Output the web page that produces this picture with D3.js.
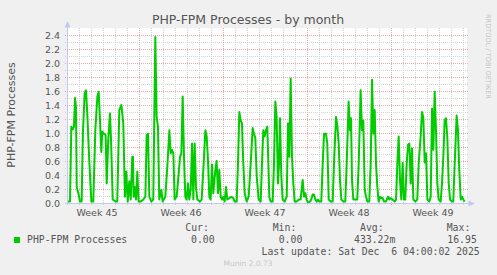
<!DOCTYPE html>
<html><head><meta charset="utf-8">
<script src="https://cdn.jsdelivr.net/npm/d3@7/dist/d3.min.js"></script>
<style>body{margin:0;background:#f0f0f0} svg{display:block} text{white-space:pre}</style>
</head><body>
<svg id="c" width="497" height="275"></svg>
<script>
const title = "PHP-FPM Processes - by month";
const yLabel = "PHP-FPM Processes";
const watermark = "RRDTOOL / TOBI OETIKER";
const footer = "Munin 2.0.73";
const weekLabels = ["Week 45","Week 46","Week 47","Week 48","Week 49"];
const weekStarts = [-1, 6, 13, 20, 27];
const yTickValues = [0,0.2,0.4,0.6,0.8,1.0,1.2,1.4,1.6,1.8,2.0,2.2,2.4];
const seriesName = "PHP-FPM Processes";
const legendHeaders = ["Cur:","Min:","Avg:","Max:"];
const legendValues = ["0.00","0.00","433.22m","16.95"];
const lastUpdate = "Last update: Sat Dec  6 04:00:02 2025";

const days = [0.03,0.25,0.36,0.47,0.58,0.67,0.75,0.81,0.97,1.08,1.22,1.33,1.47,1.58,1.69,1.86,2.03,2.19,2.36,2.53,2.64,2.75,2.86,2.94,3.08,3.22,3.31,3.44,3.58,3.67,3.81,4.06,4.19,4.36,4.53,4.69,4.83,4.94,5.06,5.19,5.31,5.44,5.5,5.55,5.64,5.75,5.86,5.97,6.14,6.36,6.53,6.64,6.75,6.86,7.03,7.19,7.36,7.47,7.58,7.69,7.86,7.97,8.19,8.36,8.53,8.64,8.75,8.86,8.97,9.14,9.31,9.42,9.53,9.64,9.75,9.86,9.97,10.08,10.19,10.31,10.42,10.53,10.64,10.75,10.86,11.08,11.22,11.36,11.53,11.64,11.75,11.86,11.97,12.08,12.19,12.36,12.47,12.58,12.69,12.81,12.92,13.03,13.14,13.25,13.36,13.53,13.69,13.86,13.97,14.14,14.25,14.36,14.47,14.58,14.69,14.81,14.97,15.14,15.31,15.47,15.58,15.69,15.81,15.97,16.14,16.25,16.36,16.47,16.58,16.69,16.86,16.97,17.14,17.25,17.36,17.47,17.58,17.67,17.75,17.86,17.97,18.14,18.31,18.42,18.53,18.58,18.64,18.75,18.86,18.97,19.14,19.31,19.47,19.64,19.75,19.86,19.97,20.08,20.25,20.36,20.47,20.58,20.69,20.81,20.92,21.03,21.19,21.31,21.42,21.58,21.69,21.81,21.97,22.14,22.25,22.42,22.53,22.64,22.75,22.86,23.03,23.19,23.31,23.47,23.58,23.67,23.75,23.86,24.03,24.19,24.31,24.47,24.58,24.69,24.81,24.92,25.03,25.19,25.31,25.42,25.53,25.64,25.75,25.86,25.97,26.08,26.19,26.31,26.42,26.58,26.75,26.86,26.97,27.14,27.31,27.42,27.53,27.64,27.75,27.86,27.97,28.08,28.19,28.31,28.42,28.53,28.64,28.75,28.86,29.03,29.19,29.31,29.47,29.58,29.69,29.81,29.92,30.03,30.19,30.31,30.42,30.53,30.64,30.75,30.86,30.97,31.14,31.25,31.36,31.47,31.58,31.69,31.81,31.92,32.08,32.19,32.31,32.47,32.58,32.69,32.81,32.92,33.03,33.14];
const values = [0.02,0.02,1.09,1.05,1.09,1.50,1.37,0.23,0.12,0.02,0.02,1.02,1.57,1.61,1.28,0.59,0.02,0.02,1.04,1.52,1.59,1.18,0.73,1.02,0.99,0.97,0.28,0.90,1.28,0.90,0.05,0.02,0.02,1.33,1.40,1.14,0.09,0.45,0.02,0.31,0.05,0.66,0.66,0.09,0.23,0.05,0.45,0.02,0.02,0.05,0.09,0.97,0.99,0.09,0.02,0.05,2.37,1.23,1.09,0.05,0.19,0.02,0.09,0.52,1.04,0.71,0.76,0.71,0.05,0.09,0.43,0.66,0.71,1.52,0.66,0.09,0.05,0.28,0.05,0.19,0.85,0.05,0.85,0.23,0.05,0.02,0.05,0.47,1.04,0.95,0.61,0.09,0.05,0.55,0.14,0.47,0.60,0.14,0.47,0.09,0.05,0.09,0.02,0.23,0.05,0.07,0.09,0.07,0.02,0.02,0.57,1.30,1.18,1.14,0.57,0.14,0.02,0.09,0.57,1.07,0.99,0.93,0.38,0.05,0.02,0.57,1.04,0.95,1.04,1.09,0.09,0.02,0.02,0.57,1.45,1.23,0.28,0.57,1.21,0.38,0.05,0.02,0.09,1.14,0.66,1.19,1.78,0.66,0.28,0.02,0.02,0.05,0.05,0.33,0.09,0.14,0.05,0.00,0.02,0.05,0.12,0.12,0.05,0.02,0.05,0.02,0.02,0.57,0.99,0.99,0.85,0.05,0.02,0.02,0.57,1.23,1.10,0.85,0.33,0.05,0.02,0.02,0.57,1.45,1.04,1.21,0.33,0.05,0.05,0.05,0.57,1.61,1.04,1.18,0.19,0.09,0.02,0.02,0.57,1.76,0.99,1.33,0.57,0.23,0.02,0.09,0.07,0.07,0.02,0.02,0.09,0.05,0.07,0.05,0.02,0.05,0.57,0.95,0.33,0.05,0.57,0.05,0.05,0.57,0.83,0.85,0.28,0.78,0.05,0.02,0.05,0.57,0.95,1.30,1.23,0.58,0.71,0.05,0.02,0.09,1.35,0.76,1.59,1.04,0.28,0.05,0.02,0.28,0.66,1.18,1.21,0.95,0.28,0.05,0.02,0.02,0.57,1.25,1.04,0.47,0.05,0.09,0.05,0.02];

(function () {
const svg = d3.select("#c");
const W = 497, H = 275;
const pL = 67, pR = 467, pT = 28, pB = 203;

svg.append("rect").attr("width", W).attr("height", H).attr("fill", "#f0f0f0");

const x = d3.scaleLinear().domain([0, 400/12]).range([pL, pR]);
const y = d3.scaleLinear().domain([0, 2.5]).range([pB, pT]);

svg.append("rect").attr("x", pL).attr("y", pT).attr("width", pR - pL).attr("height", pB - pT).attr("fill", "#ffffff");

const g = svg.append("g");
const minorY = d3.range(1, 25).map(i => i / 10).filter(v => Math.round(v * 10) % 2 === 1);
g.selectAll(".hm").data(minorY).enter().append("line")
  .attr("x1", pL - 2).attr("x2", pR + 2)
  .attr("y1", d => Math.round(y(d)) + 0.5).attr("y2", d => Math.round(y(d)) + 0.5)
  .attr("stroke", "#d2d2d2").attr("stroke-dasharray", "1,1");
const dayTicks = d3.range(1, 34).filter(d => !weekStarts.includes(d));
g.selectAll(".vm").data(dayTicks).enter().append("line")
  .attr("x1", d => Math.round(x(d)) + 0.5).attr("x2", d => Math.round(x(d)) + 0.5)
  .attr("y1", pT).attr("y2", pB + 2)
  .attr("stroke", "#d2d2d2").attr("stroke-dasharray", "1,1");
g.selectAll(".hM").data(yTickValues.filter(v => v > 0)).enter().append("line")
  .attr("x1", pL - 2).attr("x2", pR + 2)
  .attr("y1", d => Math.round(y(d)) + 0.5).attr("y2", d => Math.round(y(d)) + 0.5)
  .attr("stroke", "#eaaaaa").attr("stroke-dasharray", "1,1");
g.selectAll(".vM").data(weekStarts.filter(d => d > 0)).enter().append("line")
  .attr("x1", d => Math.round(x(d)) + 0.5).attr("x2", d => Math.round(x(d)) + 0.5)
  .attr("y1", pT).attr("y2", pB + 2)
  .attr("stroke", "#eaaaaa").attr("stroke-dasharray", "1,1");

svg.selectAll(".yt").data(yTickValues).enter().append("text")
  .attr("x", 60).attr("y", d => y(d) + 3.5)
  .attr("text-anchor", "end").attr("font-family", "DejaVu Sans").attr("font-size", 9.5)
  .attr("fill", "#555").text(d => d.toFixed(1));

svg.selectAll(".xt").data(weekLabels).enter().append("text")
  .attr("x", (d, i) => x(weekStarts[i] + 3.5)).attr("y", 215.5)
  .attr("text-anchor", "middle").attr("font-family", "DejaVu Sans").attr("font-size", 9.5)
  .attr("fill", "#555").text(d => d);

const line = d3.line().x(d => x(d[0])).y(d => y(d[1]));
svg.append("path").datum(days.map((d, i) => [d, values[i]]))
  .attr("d", line).attr("fill", "none").attr("stroke", "#00cc00")
  .attr("stroke-width", 2).attr("stroke-linejoin", "round");

const axisColor = "#c4c8f4";
svg.append("line").attr("x1", pL + 0.5).attr("x2", pL + 0.5).attr("y1", 27).attr("y2", pB + 2).attr("stroke", axisColor);
svg.append("line").attr("x1", pL - 2).attr("x2", pR + 2).attr("y1", pB + 0.5).attr("y2", pB + 0.5).attr("stroke", axisColor);
svg.append("path").attr("d", `M${pL + 0.5},21 L${pL + 3.5},27.5 L${pL - 2.5},27.5 Z`).attr("fill", axisColor);
svg.append("path").attr("d", `M${pR + 8},${pB + 0.5} L${pR + 1.5},${pB - 2.5} L${pR + 1.5},${pB + 3.5} Z`).attr("fill", axisColor);

svg.append("text").attr("x", 248).attr("y", 24).attr("text-anchor", "middle")
  .attr("font-family", "DejaVu Sans").attr("font-size", 12.5).attr("fill", "#555").text(title);
svg.append("text").attr("transform", "translate(15,115) rotate(-90)").attr("text-anchor", "middle")
  .attr("font-family", "DejaVu Sans").attr("font-size", 11).attr("fill", "#555").text(yLabel);
svg.append("text").attr("transform", "translate(485.5,14) rotate(90)").attr("text-anchor", "start")
  .attr("font-family", "DejaVu Sans").attr("font-size", 6.6).attr("fill", "#c4c4c4").text(watermark);

const mono = "DejaVu Sans Mono";
svg.append("rect").attr("x", 14).attr("y", 237).attr("width", 6).attr("height", 6).attr("fill", "#00cc00");
svg.append("text").attr("x", 27).attr("y", 243).attr("font-family", mono).attr("font-size", 9.8).attr("fill", "#555").text(seriesName);
const headerX = [185.3, 272.7, 360, 446.7];
const valueX = [191, 278.7, 354, 447.3];
svg.selectAll(".lh").data(legendHeaders).enter().append("text")
  .attr("x", (d, i) => headerX[i]).attr("y", 231).attr("font-family", mono).attr("font-size", 9.8).attr("fill", "#555").text(d => d);
svg.selectAll(".lv").data(legendValues).enter().append("text")
  .attr("x", (d, i) => valueX[i]).attr("y", 243).attr("font-family", mono).attr("font-size", 9.8).attr("fill", "#555").text(d => d);
svg.append("text").attr("x", 261.5).attr("y", 255).attr("font-family", mono).attr("font-size", 9.8).attr("fill", "#555").text(lastUpdate);
svg.append("text").attr("x", 248).attr("y", 266).attr("text-anchor", "middle").attr("font-family", "DejaVu Sans").attr("font-size", 7.5).attr("fill", "#c8c8c8").text(footer);
})();
</script>
</body></html>
